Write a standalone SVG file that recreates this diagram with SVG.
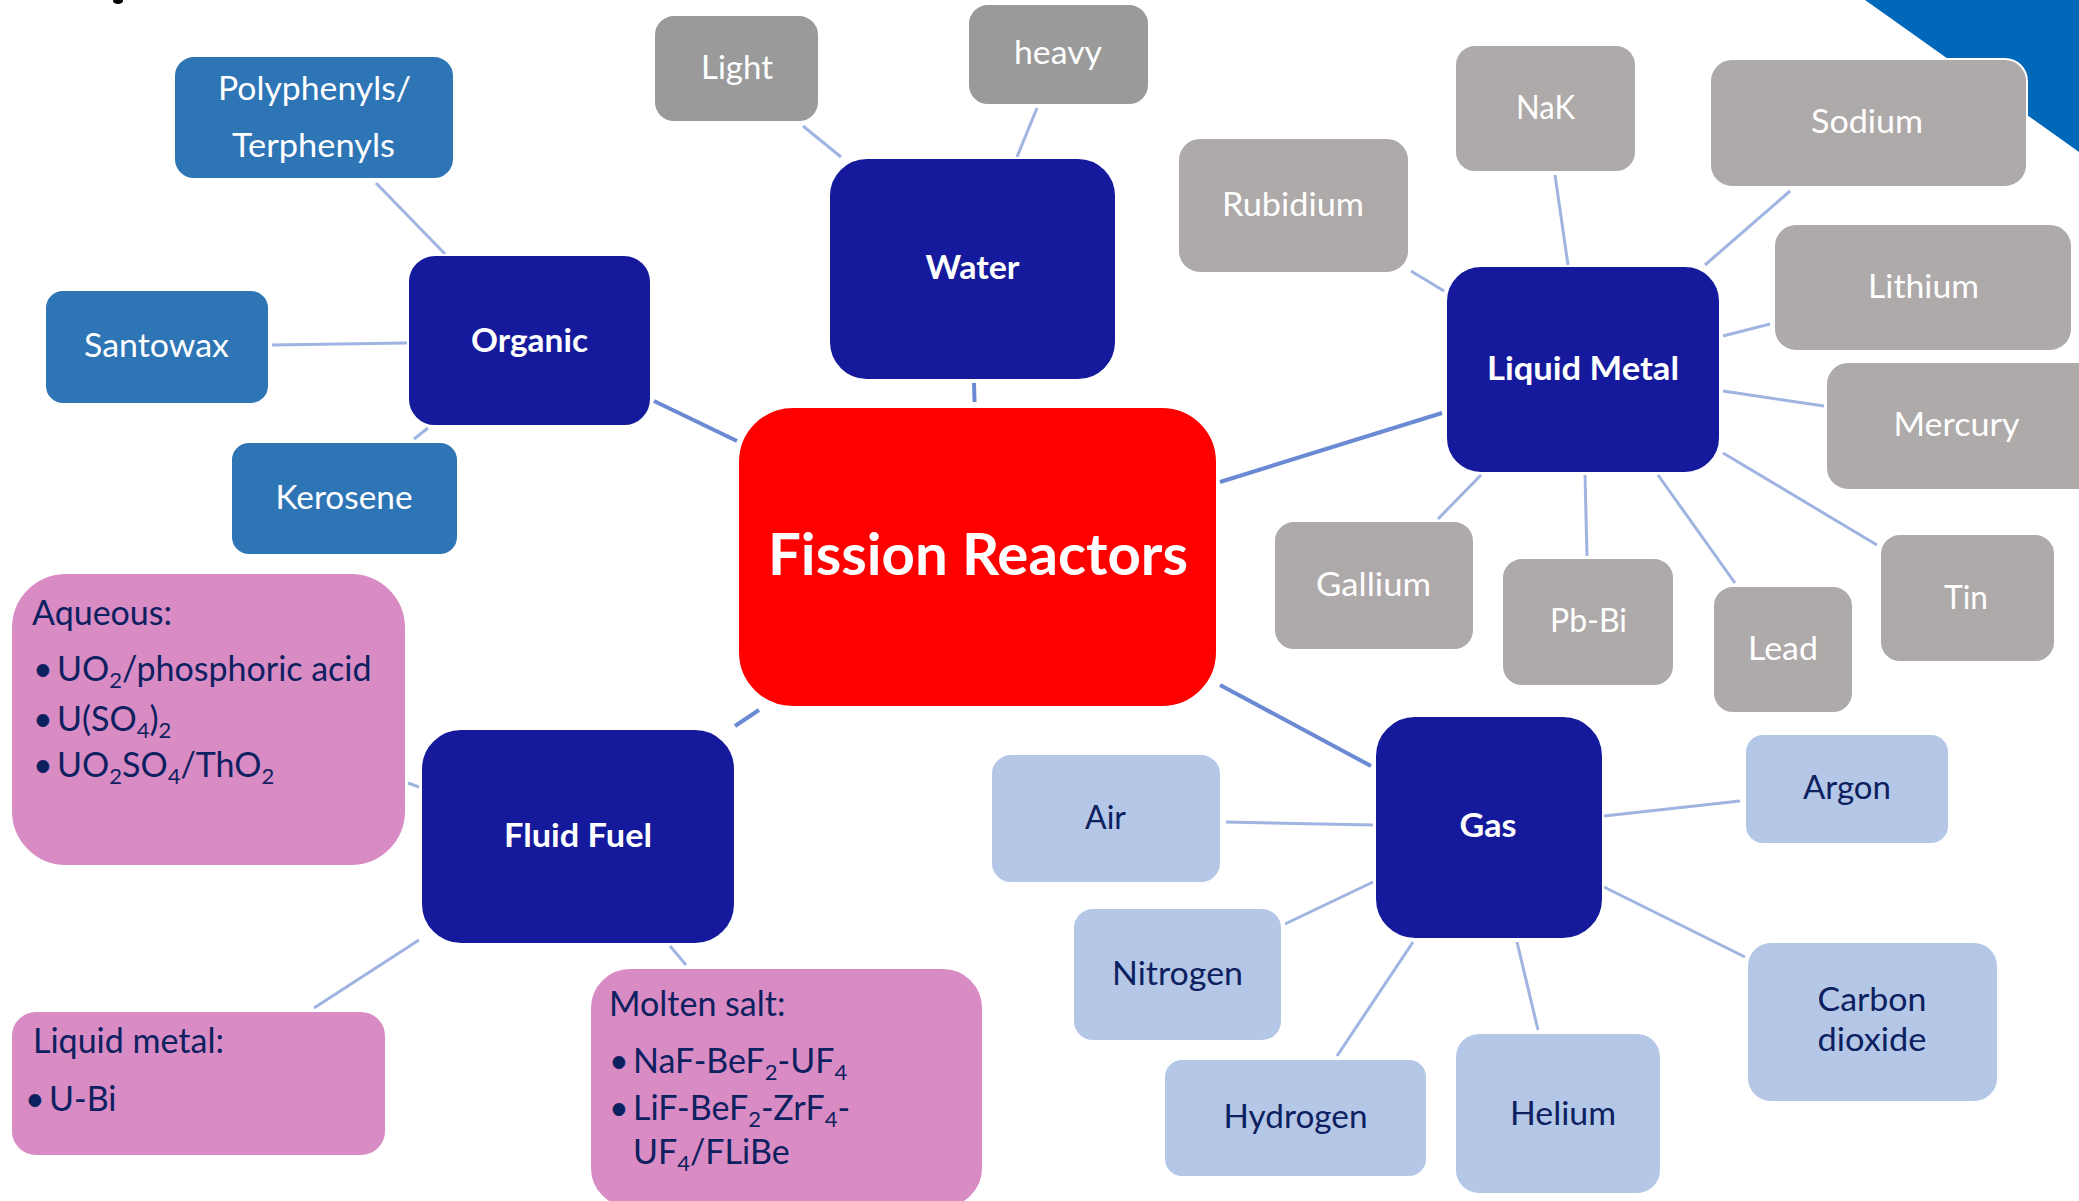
<svg xmlns="http://www.w3.org/2000/svg" width="2079" height="1201" viewBox="0 0 2079 1201">
<style>
.node rect{stroke:#ffffff;stroke-width:2}
.navy{fill:#151A9C}
.red{fill:#FF0000}
.gw{fill:#9A9A9A}
.gm{fill:#AEAAA9}
.bo{fill:#2E75B6}
.lb{fill:#B4C7E7}
.pk{fill:#D98BC3}
text{font-family:Lato,"Open Sans","Liberation Sans",sans-serif}
.w{fill:#ffffff;font-size:33px}
.wb{fill:#ffffff;font-size:33px;font-weight:bold}
.d{fill:#0D2060;font-size:33px}
.p{fill:#0D2060;font-size:34px}
.title{fill:#ffffff;font-size:57px;font-weight:bold}
.c{text-anchor:middle}
.main line{stroke:#6A8AD3;stroke-width:4}
.sub line{stroke:#A0B4E2;stroke-width:3}
</style>
<rect x="0" y="0" width="2079" height="1201" fill="#ffffff"/>
<polygon points="1865,0 2079,0 2079,152" fill="#0068B8"/>
<ellipse cx="118" cy="1" rx="5" ry="3" fill="#000000"/>
<g id="connectors">
<g class="main">
<line x1="654" y1="401" x2="737" y2="441"/>
<line x1="974" y1="383" x2="974.5" y2="402"/>
<line x1="1220" y1="482" x2="1442" y2="413"/>
<line x1="1220" y1="685" x2="1371" y2="766"/>
<line x1="735" y1="726" x2="759" y2="710"/>
</g>
<g class="sub">
<line x1="376" y1="183" x2="445" y2="254"/>
<line x1="272" y1="345" x2="407" y2="343"/>
<line x1="414" y1="439" x2="428" y2="428"/>
<line x1="803" y1="126" x2="841" y2="157"/>
<line x1="1037" y1="108" x2="1017" y2="157"/>
<line x1="1411" y1="271" x2="1444" y2="291"/>
<line x1="1555" y1="175" x2="1568" y2="265"/>
<line x1="1790" y1="191" x2="1705" y2="265"/>
<line x1="1770" y1="324" x2="1723" y2="336"/>
<line x1="1824" y1="406" x2="1723" y2="391"/>
<line x1="1877" y1="545" x2="1723" y2="453"/>
<line x1="1735" y1="583" x2="1658" y2="475"/>
<line x1="1587" y1="556" x2="1585" y2="475"/>
<line x1="1438" y1="519" x2="1481" y2="475"/>
<line x1="1226" y1="822" x2="1373" y2="825"/>
<line x1="1740" y1="801" x2="1604" y2="816"/>
<line x1="1285" y1="924" x2="1373" y2="882"/>
<line x1="1337" y1="1056" x2="1413" y2="942"/>
<line x1="1538" y1="1030" x2="1517" y2="942"/>
<line x1="1745" y1="957" x2="1604" y2="887"/>
<line x1="408" y1="783" x2="419" y2="787"/>
<line x1="419" y1="940" x2="314" y2="1008"/>
<line x1="670" y1="946" x2="686" y2="965"/>
</g>
</g>
<g id="fission-reactors" class="node"><rect class="red" x="738" y="407" width="479" height="300" rx="55"/><text class="title c" x="978" y="575" textLength="420" lengthAdjust="spacingAndGlyphs">Fission Reactors</text></g>
<g id="water" class="node"><rect class="navy" x="829" y="158" width="287" height="222" rx="38"/><text class="wb c" x="972.5" y="279" textLength="94" lengthAdjust="spacingAndGlyphs">Water</text></g>
<g id="organic" class="node"><rect class="navy" x="408" y="255" width="243" height="171" rx="27"/><text class="wb c" x="529.5" y="352" textLength="117" lengthAdjust="spacingAndGlyphs">Organic</text></g>
<g id="liquid-metal" class="node"><rect class="navy" x="1446" y="266" width="274" height="207" rx="35"/><text class="wb c" x="1583" y="380" textLength="192" lengthAdjust="spacingAndGlyphs">Liquid Metal</text></g>
<g id="gas" class="node"><rect class="navy" x="1375" y="716" width="228" height="223" rx="40"/><text class="wb c" x="1488" y="837" textLength="57" lengthAdjust="spacingAndGlyphs">Gas</text></g>
<g id="fluid-fuel" class="node"><rect class="navy" x="421" y="729" width="314" height="215" rx="40"/><text class="wb c" x="578" y="847" textLength="148" lengthAdjust="spacingAndGlyphs">Fluid Fuel</text></g>

<g id="light" class="node"><rect class="gw" x="654" y="15" width="165" height="107" rx="20"/><text class="w c" x="737" y="79" textLength="72" lengthAdjust="spacingAndGlyphs">Light</text></g>
<g id="heavy" class="node"><rect class="gw" x="968" y="4" width="181" height="101" rx="20"/><text class="w c" x="1058" y="64" textLength="88" lengthAdjust="spacingAndGlyphs">heavy</text></g>

<g id="polyphenyls" class="node"><rect class="bo" x="174" y="56" width="280" height="123" rx="20"/><text class="w c" x="314.5" y="100" textLength="193" lengthAdjust="spacingAndGlyphs">Polyphenyls/</text><text class="w c" x="313.5" y="157" textLength="163" lengthAdjust="spacingAndGlyphs">Terphenyls</text></g>
<g id="santowax" class="node"><rect class="bo" x="45" y="290" width="224" height="114" rx="18"/><text class="w c" x="156.5" y="357" textLength="145" lengthAdjust="spacingAndGlyphs">Santowax</text></g>
<g id="kerosene" class="node"><rect class="bo" x="231" y="442" width="227" height="113" rx="18"/><text class="w c" x="344" y="509" textLength="137" lengthAdjust="spacingAndGlyphs">Kerosene</text></g>

<g id="nak" class="node"><rect class="gm" x="1455" y="45" width="181" height="127" rx="20"/><text class="w c" x="1545.5" y="119" textLength="59" lengthAdjust="spacingAndGlyphs">NaK</text></g>
<g id="sodium" class="node"><rect class="gm" x="1710" y="59" width="317" height="128" rx="22"/><text class="w c" x="1867" y="133" textLength="112" lengthAdjust="spacingAndGlyphs">Sodium</text></g>
<g id="rubidium" class="node"><rect class="gm" x="1178" y="138" width="231" height="135" rx="22"/><text class="w c" x="1293" y="216" textLength="142" lengthAdjust="spacingAndGlyphs">Rubidium</text></g>
<g id="lithium" class="node"><rect class="gm" x="1774" y="224" width="298" height="127" rx="22"/><text class="w c" x="1923.5" y="298" textLength="111" lengthAdjust="spacingAndGlyphs">Lithium</text></g>
<g id="mercury" class="node"><rect class="gm" x="1826" y="362" width="290" height="128" rx="22"/><text class="w c" x="1956.5" y="436" textLength="126" lengthAdjust="spacingAndGlyphs">Mercury</text></g>
<g id="gallium" class="node"><rect class="gm" x="1274" y="521" width="200" height="129" rx="20"/><text class="w c" x="1373.5" y="596" textLength="115" lengthAdjust="spacingAndGlyphs">Gallium</text></g>
<g id="pb-bi" class="node"><rect class="gm" x="1502" y="558" width="172" height="128" rx="20"/><text class="w c" x="1588.5" y="632" textLength="77" lengthAdjust="spacingAndGlyphs">Pb-Bi</text></g>
<g id="lead" class="node"><rect class="gm" x="1713" y="586" width="140" height="127" rx="20"/><text class="w c" x="1783" y="660" textLength="70" lengthAdjust="spacingAndGlyphs">Lead</text></g>
<g id="tin" class="node"><rect class="gm" x="1880" y="534" width="175" height="128" rx="20"/><text class="w c" x="1966" y="609" textLength="44" lengthAdjust="spacingAndGlyphs">Tin</text></g>

<g id="air" class="node"><rect class="lb" x="991" y="754" width="230" height="129" rx="20"/><text class="d c" x="1105.5" y="829" textLength="41" lengthAdjust="spacingAndGlyphs">Air</text></g>
<g id="argon" class="node"><rect class="lb" x="1745" y="734" width="204" height="110" rx="18"/><text class="d c" x="1847" y="799" textLength="88" lengthAdjust="spacingAndGlyphs">Argon</text></g>
<g id="nitrogen" class="node"><rect class="lb" x="1073" y="908" width="209" height="133" rx="20"/><text class="d c" x="1177.5" y="985" textLength="131" lengthAdjust="spacingAndGlyphs">Nitrogen</text></g>
<g id="hydrogen" class="node"><rect class="lb" x="1164" y="1059" width="263" height="118" rx="18"/><text class="d c" x="1295.5" y="1128" textLength="144" lengthAdjust="spacingAndGlyphs">Hydrogen</text></g>
<g id="helium" class="node"><rect class="lb" x="1455" y="1033" width="206" height="161" rx="24"/><text class="d c" x="1563" y="1125" textLength="106" lengthAdjust="spacingAndGlyphs">Helium</text></g>
<g id="carbon-dioxide" class="node"><rect class="lb" x="1747" y="942" width="251" height="160" rx="24"/><text class="d c" x="1872" y="1011" textLength="109" lengthAdjust="spacingAndGlyphs">Carbon</text><text class="d c" x="1872" y="1051" textLength="109" lengthAdjust="spacingAndGlyphs">dioxide</text></g>

<g id="aqueous" class="node"><rect class="pk" x="11" y="573" width="395" height="293" rx="55"/>
<text class="p" x="32" y="625">Aqueous:</text>
<text class="p" x="33" y="681">•</text><text class="p" x="57" y="681">UO<tspan font-size="22" dy="7">2</tspan><tspan dy="-7">/phosphoric acid</tspan></text>
<text class="p" x="33" y="731">•</text><text class="p" x="57" y="731">U(SO<tspan font-size="22" dy="7">4</tspan><tspan dy="-7">)</tspan><tspan font-size="22" dy="7">2</tspan></text>
<text class="p" x="33" y="777">•</text><text class="p" x="57" y="777">UO<tspan font-size="22" dy="7">2</tspan><tspan dy="-7">SO</tspan><tspan font-size="22" dy="7">4</tspan><tspan dy="-7">/ThO</tspan><tspan font-size="22" dy="7">2</tspan></text>
</g>
<g id="liquid-metal-fuel" class="node"><rect class="pk" x="11" y="1011" width="375" height="145" rx="25"/>
<text class="p" x="33" y="1053">Liquid metal:</text>
<text class="p" x="25" y="1111">•</text><text class="p" x="49" y="1111">U-Bi</text>
</g>
<g id="molten-salt" class="node"><rect class="pk" x="590" y="968" width="393" height="240" rx="40"/>
<text class="p" x="609" y="1016">Molten salt:</text>
<text class="p" x="609" y="1073">•</text><text class="p" x="633" y="1073">NaF-BeF<tspan font-size="22" dy="7">2</tspan><tspan dy="-7">-UF</tspan><tspan font-size="22" dy="7">4</tspan></text>
<text class="p" x="609" y="1120">•</text><text class="p" x="633" y="1120">LiF-BeF<tspan font-size="22" dy="7">2</tspan><tspan dy="-7">-ZrF</tspan><tspan font-size="22" dy="7">4</tspan><tspan dy="-7">-</tspan></text>
<text class="p" x="633" y="1164">UF<tspan font-size="22" dy="7">4</tspan><tspan dy="-7">/FLiBe</tspan></text>
</g>
</svg>
